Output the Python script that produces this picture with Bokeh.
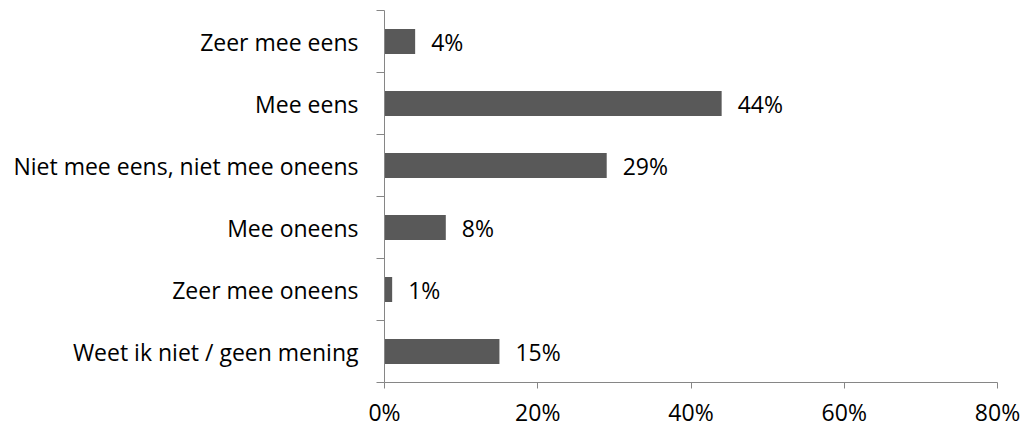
from bokeh.plotting import figure
from bokeh.models import Range1d, FixedTicker, ColumnDataSource
from bokeh.embed import file_html
from bokeh.resources import INLINE
from bokeh.core.properties import value

categories = ["Zeer mee eens", "Mee eens", "Niet mee eens, niet mee oneens",
              "Mee oneens", "Zeer mee oneens", "Weet ik niet / geen mening"]
values = [4, 44, 29, 8, 1, 15]
x_ticks = [0, 20, 40, 60, 80]
x_tick_labels = ["0%", "20%", "40%", "60%", "80%"]

n = len(categories)
ypos = [n - 0.5 - i for i in range(n)]
src = ColumnDataSource(dict(y=ypos, v=values, lab=[f"{v}%" for v in values]))

FONT = "Open Sans"
FS = "23px"
p = figure(width=1020, height=430, output_backend="svg", toolbar_location=None,
           x_range=Range1d(0, 80), y_range=Range1d(0, n),
           min_border_left=384, min_border_right=23, min_border_top=10, min_border_bottom=44)
p.outline_line_color = None
p.grid.grid_line_color = None
p.background_fill_color = "white"

p.hbar(y="y", left=0, right="v", height=0.4, source=src, fill_color="#595959", line_color=None)
p.text(x="v", y="y", text="lab", source=src, x_offset=16, text_baseline="middle",
       text_font=value(FONT), text_font_size=FS, text_color="#000000")

xa = p.xaxis[0]
xa.ticker = FixedTicker(ticks=x_ticks)
xa.major_label_overrides = {t: l for t, l in zip(x_ticks, x_tick_labels)}
xa.axis_line_color = "#868686"
xa.major_tick_line_color = "#868686"
xa.major_tick_in = 0
xa.major_tick_out = 6
xa.minor_tick_line_color = None
xa.major_label_text_font = FONT
xa.major_label_text_font_size = FS
xa.major_label_text_color = "#000000"
xa.major_label_standoff = 7

ya = p.yaxis[0]
ya.ticker = FixedTicker(ticks=ypos, minor_ticks=list(range(n + 1)))
ya.major_label_overrides = {y: c for y, c in zip(ypos, categories)}
ya.axis_line_color = "#868686"
ya.major_tick_line_color = None
ya.major_tick_in = 0
ya.major_tick_out = 0
ya.minor_tick_line_color = "#868686"
ya.minor_tick_in = 0
ya.minor_tick_out = 8
ya.major_label_text_font = FONT
ya.major_label_text_font_size = FS
ya.major_label_text_color = "#000000"
ya.major_label_standoff = 18

open("out.html", "w").write(file_html(p, INLINE))
